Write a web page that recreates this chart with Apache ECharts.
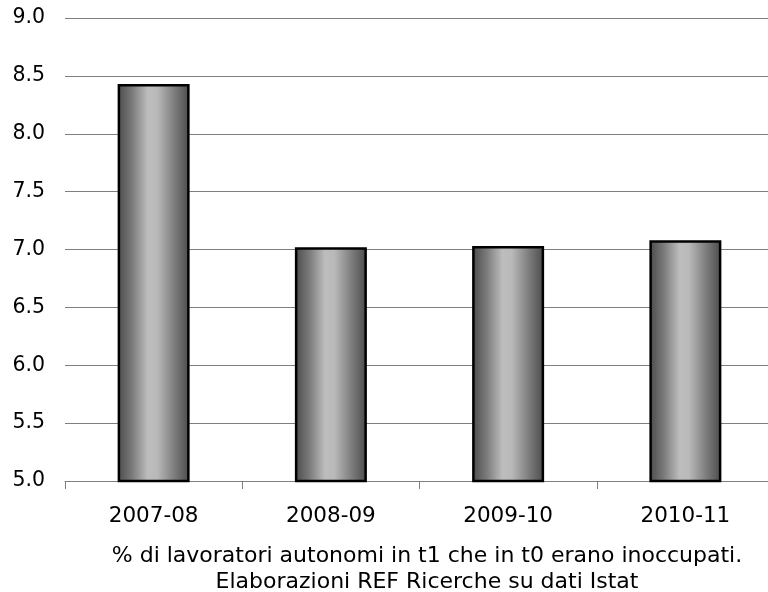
<!DOCTYPE html>
<html><head><meta charset="utf-8">
<script src="https://cdn.jsdelivr.net/npm/echarts@6/dist/echarts.min.js"></script>
<style>html,body{margin:0;padding:0;background:#fff}#c{width:768px;height:592px}</style>
</head><body><div id="c"></div>
<script>
var categories = ['2007-08', '2008-09', '2009-10', '2010-11'];
var values = [8.43, 7.02, 7.03, 7.08];
var yTicks = { min: 5, max: 9, interval: 0.5 };
var caption = '% di lavoratori autonomi in t1 che in t0 erano inoccupati.\nElaborazioni REF Ricerche su dati Istat';

var chart = echarts.init(document.getElementById('c'), null, { renderer: 'canvas' });
var font = '"DejaVu Sans", Verdana, sans-serif';
var grad = new echarts.graphic.LinearGradient(0, 0, 1, 0, [
  { offset: 0, color: '#4a4a4a' },
  { offset: 0.2, color: '#7a7a7a' },
  { offset: 0.42, color: '#bdbdbd' },
  { offset: 0.55, color: '#b9b9b9' },
  { offset: 0.8, color: '#7a7a7a' },
  { offset: 1, color: '#4a4a4a' }
]);
chart.setOption({
  animation: false,
  textStyle: { fontFamily: font },
  title: {
    text: caption,
    left: 422, top: 538, textAlign: 'center',
    textStyle: { fontFamily: font, fontSize: 22, fontWeight: 'normal', color: '#000', lineHeight: 26 }
  },
  grid: { left: 65, top: 18, width: 709, height: 463, containLabel: false, outerBoundsMode: 'none' },
  xAxis: {
    type: 'category', data: categories,
    axisLine: { lineStyle: { color: '#808080', width: 1 } },
    axisTick: { show: true, length: 8, lineStyle: { color: '#808080' } },
    axisLabel: { color: '#000', fontSize: 21.5, fontFamily: font, margin: 24 }
  },
  yAxis: {
    type: 'value', min: yTicks.min, max: yTicks.max, interval: yTicks.interval,
    axisLine: { show: false }, axisTick: { show: false },
    axisLabel: { color: '#000', fontSize: 20.5, fontFamily: font, margin: 20,
      formatter: function (v) { return v.toFixed(1); } },
    splitLine: { lineStyle: { color: '#7f7f7f', width: 1 } }
  },
  series: [{
    type: 'bar', data: values, barWidth: 72,
    itemStyle: { color: grad, borderColor: '#000', borderWidth: 2.5 }
  }]
});
</script></body></html>
